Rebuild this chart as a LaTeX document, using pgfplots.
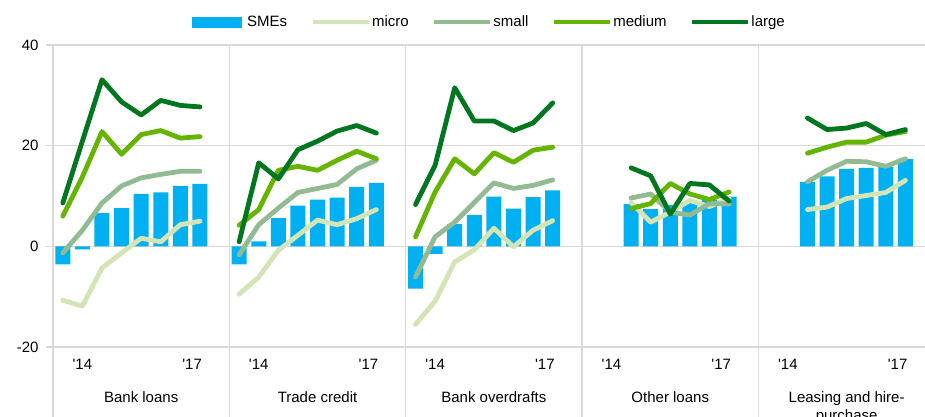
\documentclass[border=0pt]{standalone}
\usepackage{fontspec}
\setmainfont{Liberation Sans}
\usepackage{pgfplots}
\pgfplotsset{compat=1.18}
\definecolor{csmes}{HTML}{00B0F0}
\definecolor{cmicro}{HTML}{D3E5B7}
\definecolor{csmall}{HTML}{93BB93}
\definecolor{cmedium}{HTML}{64B400}
\definecolor{clarge}{HTML}{00761E}
\definecolor{gridc}{HTML}{D9D9D9}

\begin{document}
\begin{tikzpicture}[font=\fontsize{15bp}{18bp}\selectfont]
\begin{axis}[
    scale only axis,
    width=872bp, height=302bp,
    xmin=-0.5, xmax=44, ymin=-20, ymax=40,
    axis line style={draw=none},
    ytick={-20,0,20,40}, yticklabels={-20,0,20,40},
    yticklabel style={xshift=-4bp},
    ymajorgrids, grid style={gridc, line width=1.2bp},
    ytick style={gridc, line width=1.2bp},
    tick align=outside, major tick length=7bp, ytick pos=left,
    xtick={1,6.6,10,15.6,19,24.6,28,33.6,37,42.6},
    xticklabels={\textquotesingle14,\textquotesingle17,\textquotesingle14,\textquotesingle17,\textquotesingle14,\textquotesingle17,\textquotesingle14,\textquotesingle17,\textquotesingle14,\textquotesingle17},
    xtick style={draw=none},
    xticklabel style={yshift=-2bp},
    clip=false,
    unbounded coords=jump,
    ln/.style={line width=4.8bp, line cap=round, line join=round, mark=none},
    legend image code/.code={\draw[#1, line cap=butt] (0bp,0bp) -- (56bp,0bp);},
    legend columns=5,
    legend style={at={(0.5,1.076)}, anchor=center, draw=none, fill=none,
        nodes={inner xsep=1bp, inner ysep=0bp},
        /tikz/every even column/.append style={column sep=22bp}},
]
\coordinate (ao) at (rel axis cs:0,0);
\pgfplotsinvokeforeach{-0.5,8.5,17.5,26.5,35.5}{
    \draw[gridc, line width=1.2bp] (axis cs:#1,40) -- (axis cs:#1,-34);
}

\addplot[ybar, bar width=15bp, fill=csmes, draw=none,
    legend image code/.code={\fill[csmes] (0bp,-5.5bp) rectangle (50bp,5.5bp); \path (54bp,0bp);}]
coordinates {
    (0,-3.6) (1,-0.6) (2,6.6) (3,7.6) (4,10.4) (5,10.7) (6,12.0) (7,12.4)
    (9,-3.6) (10,1.0) (11,5.6) (12,8.1) (13,9.3) (14,9.7) (15,11.8) (16,12.6)
    (18,-8.4) (19,-1.5) (20,4.4) (21,6.2) (22,9.9) (23,7.5) (24,9.8) (25,11.1)
    (29,8.4) (30,7.4) (31,8.2) (32,8.8) (33,9.3) (34,9.9)
    (38,12.8) (39,13.9) (40,15.4) (41,15.6) (42,15.8) (43,17.4)
};
\addplot[cmicro, ln] coordinates {
    (0,-10.7) (1,-11.9) (2,-4.3) (3,-1.3) (4,1.6) (5,0.9) (6,4.3) (7,5.0) (8,nan)
    (9,-9.5) (10,-6.1) (11,-0.8) (12,2.2) (13,5.2) (14,4.3) (15,5.5) (16,7.3) (17,nan)
    (18,-15.5) (19,-10.9) (20,-3.1) (21,-0.7) (22,3.6) (23,-0.1) (24,3.2) (25,5.1) (26,nan)
    (29,8.7) (30,4.8) (31,6.8) (32,9.1) (33,7.9) (34,9.5) (35,nan)
    (38,7.3) (39,7.8) (40,9.5) (41,10.1) (42,10.7) (43,13.1)
};
\addplot[csmall, ln] coordinates {
    (0,-1.3) (1,3.2) (2,8.6) (3,12.0) (4,13.6) (5,14.3) (6,14.9) (7,14.9) (8,nan)
    (9,-1.7) (10,4.3) (11,7.6) (12,10.7) (13,11.5) (14,12.3) (15,15.4) (16,17.1) (17,nan)
    (18,-6.1) (19,1.9) (20,4.8) (21,8.7) (22,12.6) (23,11.5) (24,12.1) (25,13.2) (26,nan)
    (29,9.6) (30,10.4) (31,6.8) (32,6.2) (33,8.5) (34,8.4) (35,nan)
    (38,12.8) (39,15.1) (40,16.9) (41,16.8) (42,15.9) (43,17.4)
};
\addplot[cmedium, ln] coordinates {
    (0,6.0) (1,13.8) (2,22.8) (3,18.3) (4,22.2) (5,23.0) (6,21.5) (7,21.8) (8,nan)
    (9,4.2) (10,7.3) (11,15.1) (12,15.9) (13,15.1) (14,17.1) (15,18.9) (16,17.4) (17,nan)
    (18,1.9) (19,10.8) (20,17.4) (21,14.4) (22,18.6) (23,16.7) (24,19.1) (25,19.7) (26,nan)
    (29,7.5) (30,8.5) (31,12.5) (32,10.4) (33,9.3) (34,10.8) (35,nan)
    (38,18.5) (39,19.7) (40,20.7) (41,20.7) (42,22.1) (43,22.8)
};
\addplot[clarge, ln] coordinates {
    (0,8.6) (1,20.9) (2,33.1) (3,28.7) (4,26.1) (5,29.0) (6,28.0) (7,27.7) (8,nan)
    (9,0.9) (10,16.6) (11,13.4) (12,19.2) (13,20.9) (14,22.9) (15,24.0) (16,22.5) (17,nan)
    (18,8.3) (19,16.1) (20,31.5) (21,24.9) (22,24.9) (23,23.0) (24,24.5) (25,28.5) (26,nan)
    (29,15.6) (30,14.0) (31,6.4) (32,12.5) (33,12.2) (34,9.0) (35,nan)
    (38,25.5) (39,23.2) (40,23.5) (41,24.4) (42,22.2) (43,23.2)
};
\legend{SMEs, micro, small, medium, large}

\node[anchor=north, yshift=-41bp] at (axis cs:4,-20) {Bank loans};
\node[anchor=north, yshift=-41bp] at (axis cs:13,-20) {Trade credit};
\node[anchor=north, yshift=-41bp] at (axis cs:22,-20) {Bank overdrafts};
\node[anchor=north, yshift=-41bp] at (axis cs:31,-20) {Other loans};
\node[anchor=north, yshift=-41bp, align=center] at (axis cs:40,-20) {Leasing and hire-\\purchase};
\end{axis}
\pgfresetboundingbox
\path[use as bounding box] ([shift={(-53bp,-70bp)}]ao) rectangle ([shift={(872bp,347bp)}]ao);
\end{tikzpicture}
\end{document}
